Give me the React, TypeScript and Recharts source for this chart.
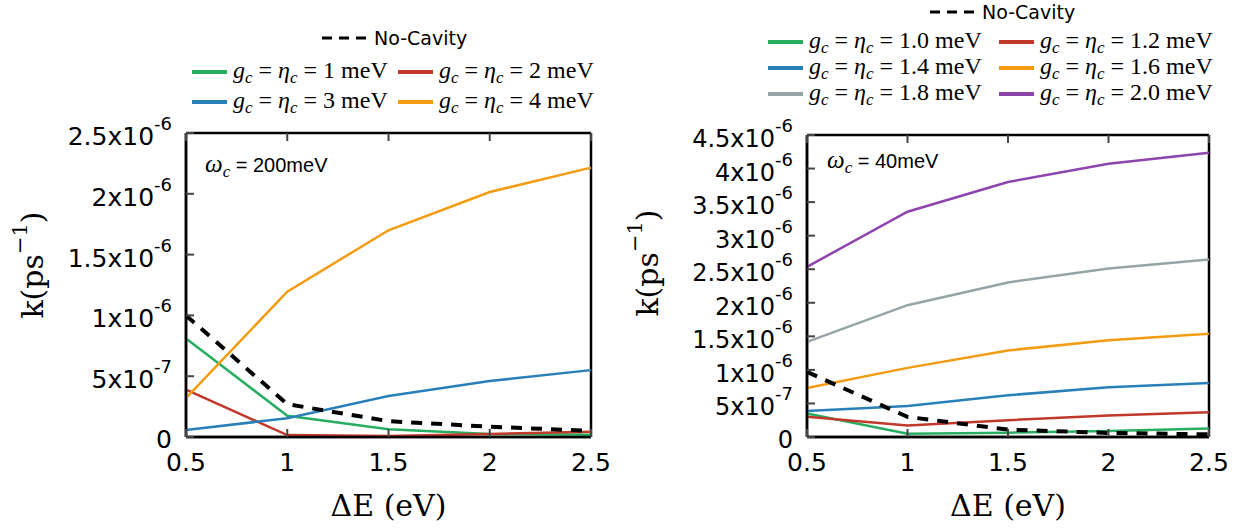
import React from 'react';
import { LineChart, Line, XAxis, YAxis, CartesianGrid } from 'recharts';

// shared x values (Delta E, eV)
const DELTA_E = [0.5, 1, 1.5, 2, 2.5];
const X_TICKS = [0.5, 1, 1.5, 2, 2.5];

// left panel, omega_c = 200 meV
const LEFT_NO_CAVITY = [1.0e-6, 0.27e-6, 0.13e-6, 0.085e-6, 0.05e-6];
const LEFT_G1 = [0.81e-6, 0.175e-6, 0.063e-6, 0.025e-6, 0.018e-6];
const LEFT_G2 = [0.39e-6, 0.016e-6, 0.008e-6, 0.025e-6, 0.044e-6];
const LEFT_G3 = [0.058e-6, 0.154e-6, 0.337e-6, 0.46e-6, 0.55e-6];
const LEFT_G4 = [0.32e-6, 1.195e-6, 1.7e-6, 2.015e-6, 2.215e-6];
const LEFT_Y_TICKS = [0, 0.5e-6, 1e-6, 1.5e-6, 2e-6, 2.5e-6];

// right panel, omega_c = 40 meV
const RIGHT_NO_CAVITY = [0.97e-6, 0.3e-6, 0.11e-6, 0.06e-6, 0.04e-6];
const RIGHT_G10 = [0.35e-6, 0.05e-6, 0.065e-6, 0.09e-6, 0.125e-6];
const RIGHT_G12 = [0.3e-6, 0.17e-6, 0.25e-6, 0.32e-6, 0.368e-6];
const RIGHT_G14 = [0.388e-6, 0.462e-6, 0.622e-6, 0.741e-6, 0.805e-6];
const RIGHT_G16 = [0.73e-6, 1.03e-6, 1.29e-6, 1.44e-6, 1.54e-6];
const RIGHT_G18 = [1.417e-6, 1.964e-6, 2.303e-6, 2.51e-6, 2.646e-6];
const RIGHT_G20 = [2.536e-6, 3.356e-6, 3.8e-6, 4.07e-6, 4.236e-6];
const RIGHT_Y_TICKS = [0, 0.5e-6, 1e-6, 1.5e-6, 2e-6, 2.5e-6, 3e-6, 3.5e-6, 4e-6, 4.5e-6];

const GREEN = '#27ae60';
const RED = '#c0392b';
const BLUE = '#2980b9';
const ORANGE = '#f39c12';
const GRAY = '#95a5a6';
const PURPLE = '#8e44ad';

type Series = { key: string; label: string; color: string; values: number[] };

const LEFT_SERIES: Series[] = [
  { key: 'g1', label: '1', color: GREEN, values: LEFT_G1 },
  { key: 'g2', label: '2', color: RED, values: LEFT_G2 },
  { key: 'g3', label: '3', color: BLUE, values: LEFT_G3 },
  { key: 'g4', label: '4', color: ORANGE, values: LEFT_G4 },
];

const RIGHT_SERIES: Series[] = [
  { key: 'g10', label: '1.0', color: GREEN, values: RIGHT_G10 },
  { key: 'g12', label: '1.2', color: RED, values: RIGHT_G12 },
  { key: 'g14', label: '1.4', color: BLUE, values: RIGHT_G14 },
  { key: 'g16', label: '1.6', color: ORANGE, values: RIGHT_G16 },
  { key: 'g18', label: '1.8', color: GRAY, values: RIGHT_G18 },
  { key: 'g20', label: '2.0', color: PURPLE, values: RIGHT_G20 },
];

const SANS = '"DejaVu Sans", sans-serif';
const SERIF = '"DejaVu Serif", serif';
const MATH = '"Liberation Serif", serif';
const TICK_STROKE = '#444';

const buildData = (series: Series[], noCavity: number[]) =>
  DELTA_E.map((x, i) => {
    const row: Record<string, number> = { x, nc: noCavity[i] };
    series.forEach((s) => (row[s.key] = s.values[i]));
    return row;
  });

const splitSci = (v: number) => {
  const exp = Math.floor(Math.log10(v) + 1e-9);
  const mant = Number((v / Math.pow(10, exp)).toFixed(2));
  return { mant, exp };
};

// tick marks point into the plot
const BottomTick = (props: any) => {
  const { x, y, payload } = props;
  return (
    <g>
      <path d={`M${x},${y}V${y - 8}`} stroke={TICK_STROKE} strokeWidth={2} fill="none" />
      <text x={x} y={y + 34} textAnchor="middle" fontFamily={SANS} fontSize={25} fill="#000">
        {payload.value}
      </text>
    </g>
  );
};

const TopTick = (props: any) => {
  const { x, y } = props;
  return <path d={`M${x},${y}V${y + 8}`} stroke={TICK_STROKE} strokeWidth={2} fill="none" />;
};

const RightTick = (props: any) => {
  const { x, y } = props;
  return <path d={`M${x},${y}H${x - 8}`} stroke={TICK_STROKE} strokeWidth={2} fill="none" />;
};

const makeLeftTick = (fontSize: number) => (props: any) => {
  const { x, y, payload } = props;
  const v = payload.value as number;
  return (
    <g>
      <path d={`M${x},${y}H${x + 8}`} stroke={TICK_STROKE} strokeWidth={2} fill="none" />
      {v === 0 ? (
        <text x={x - 14} y={y + 11} textAnchor="end" fontFamily={SANS} fontSize={fontSize} fill="#000">
          0
        </text>
      ) : (
        <text x={x - 14} y={y + 12} textAnchor="end" fontFamily={SANS} fontSize={fontSize} fill="#000">
          <tspan>{`${splitSci(v).mant}x10`}</tspan>
          <tspan dy={-15} fontSize={18}>{`${splitSci(v).exp}`}</tspan>
        </text>
      )}
    </g>
  );
};

const xTitle = (props: any) => {
  const { viewBox } = props;
  const cx = viewBox.x + viewBox.width / 2;
  return (
    <text x={cx} y={viewBox.y + 79} textAnchor="middle" fontFamily={SERIF} fontSize={30} fill="#000">
      ΔE (eV)
    </text>
  );
};

const yTitle = (cx: number, cy: number) => () => (
  <text
    x={cx}
    y={cy}
    transform={`rotate(-90 ${cx} ${cy})`}
    textAnchor="middle"
    dominantBaseline="central"
    fontFamily={SERIF}
    fontSize={30}
    fill="#000"
  >
    <tspan>k(ps</tspan>
    <tspan dy={-12} fontSize={21}>−1</tspan>
    <tspan dy={12}>)</tspan>
  </text>
);

// frame: grid lines only at the plot edges
const edgeRows = ({ offset }: any) => [offset.top, offset.top + offset.height];
const edgeCols = ({ offset }: any) => [offset.left, offset.left + offset.width];

const FRAME = { stroke: '#000', strokeWidth: 2.5 };

type PanelProps = {
  series: Series[];
  noCavity: number[];
  yTicks: number[];
  width: number;
  margin: { top: number; right: number; bottom: number; left: number };
  tickFont: number;
  titleCenter: [number, number];
};

const Panel = ({ series, noCavity, yTicks, width, margin, tickFont, titleCenter }: PanelProps) => {
  const data = buildData(series, noCavity);
  const yMax = yTicks[yTicks.length - 1];
  return (
    <LineChart width={width} height={531} data={data} margin={margin}>
      <CartesianGrid
        stroke="#000"
        strokeWidth={2.5}
        strokeDasharray=""
        horizontalCoordinatesGenerator={edgeRows}
        verticalCoordinatesGenerator={edgeCols}
      />
      <XAxis
        dataKey="x"
        type="number"
        domain={[0.5, 2.5]}
        ticks={X_TICKS}
        interval={0}
        height={60}
        tickSize={0}
        tickMargin={0}
        tick={<BottomTick />}
        axisLine={FRAME}
        label={{ content: xTitle }}
      />
      <XAxis
        xAxisId="top"
        orientation="top"
        mirror
        dataKey="x"
        type="number"
        domain={[0.5, 2.5]}
        ticks={X_TICKS}
        interval={0}
        height={1}
        tickSize={0}
        tickMargin={0}
        tick={<TopTick />}
        axisLine={false}
      />
      <YAxis
        type="number"
        domain={[0, yMax]}
        ticks={yTicks}
        interval={0}
        width={100}
        tickSize={0}
        tickMargin={0}
        tick={makeLeftTick(tickFont)}
        axisLine={FRAME}
        label={{ content: yTitle(titleCenter[0], titleCenter[1]) }}
      />
      <YAxis
        yAxisId="right"
        orientation="right"
        mirror
        type="number"
        domain={[0, yMax]}
        ticks={yTicks}
        interval={0}
        width={1}
        tickSize={0}
        tickMargin={0}
        tick={<RightTick />}
        axisLine={false}
      />
      {series.map((s) => (
        <Line
          key={s.key}
          type="linear"
          dataKey={s.key}
          stroke={s.color}
          strokeWidth={2.5}
          dot={false}
          isAnimationActive={false}
        />
      ))}
      <Line
        type="linear"
        dataKey="nc"
        stroke="#000"
        strokeWidth={4}
        strokeDasharray="11 9"
        dot={false}
        isAnimationActive={false}
      />
    </LineChart>
  );
};

const MathLabel = ({ x, y, value }: { x: number; y: number; value: string }) => (
  <text x={x} y={y} fontFamily={MATH} fontSize={24} fill="#000" style={{ whiteSpace: 'pre' }}>
    <tspan fontStyle="italic">g</tspan>
    <tspan fontStyle="italic" fontSize={17} dy={5}>c</tspan>
    <tspan dy={-5}>{' = '}</tspan>
    <tspan fontStyle="italic">η</tspan>
    <tspan fontStyle="italic" fontSize={17} dy={5}>c</tspan>
    <tspan dy={-5}>{` = ${value} meV`}</tspan>
  </text>
);

const NoCavityKey = ({ x, y }: { x: number; y: number }) => (
  <g>
    <path d={`M${x},${y}H${x + 44}`} stroke="#000" strokeWidth={3} strokeDasharray="10 7" />
    <text x={x + 52} y={y + 7} fontFamily={SANS} fontSize={19} fill="#000">
      No-Cavity
    </text>
  </g>
);

const Legend = ({
  series,
  colX,
  rowY,
  nc,
}: {
  series: Series[];
  colX: [number, number];
  rowY: number[];
  nc: [number, number];
}) => (
  <g>
    <NoCavityKey x={nc[0]} y={nc[1]} />
    {series.map((s, i) => {
      const x = colX[i % 2];
      const y = rowY[Math.floor(i / 2)];
      return (
        <g key={s.key}>
          <path d={`M${x},${y}H${x + 35}`} stroke={s.color} strokeWidth={4} />
          <MathLabel x={x + 41} y={y + 6} value={s.label} />
        </g>
      );
    })}
  </g>
);

const Omega = ({ x, y, value }: { x: number; y: number; value: string }) => (
  <text x={x} y={y} fontSize={20} fill="#000" style={{ whiteSpace: 'pre' }}>
    <tspan fontFamily={MATH} fontStyle="italic" fontSize={25}>ω</tspan>
    <tspan fontFamily={MATH} fontStyle="italic" fontSize={17} dy={5}>c</tspan>
    <tspan dy={-5} fontFamily='"Liberation Sans", sans-serif'>{` = ${value}meV`}</tspan>
  </text>
);

export default function App() {
  return (
    <div style={{ position: 'absolute', left: 0, top: 0, width: 1247, height: 531, background: '#fff' }}>
      <div style={{ position: 'absolute', left: 0, top: 0 }}>
        <Panel
          series={LEFT_SERIES}
          noCavity={LEFT_NO_CAVITY}
          yTicks={LEFT_Y_TICKS}
          width={620}
          margin={{ top: 133, right: 29, bottom: 34, left: 86 }}
          tickFont={25}
          titleCenter={[32, 265]}
        />
      </div>
      <div style={{ position: 'absolute', left: 620, top: 0 }}>
        <Panel
          series={RIGHT_SERIES}
          noCavity={RIGHT_NO_CAVITY}
          yTicks={RIGHT_Y_TICKS}
          width={627}
          margin={{ top: 135, right: 38, bottom: 34, left: 87 }}
          tickFont={24}
          titleCenter={[27, 263]}
        />
      </div>
      <svg width={1247} height={531} style={{ position: 'absolute', left: 0, top: 0, pointerEvents: 'none' }}>
        <Legend series={LEFT_SERIES} colX={[192, 398]} rowY={[72, 102]} nc={[322, 38]} />
        <Legend series={RIGHT_SERIES} colX={[768, 999]} rowY={[42, 68, 94]} nc={[930, 12]} />
        <Omega x={205} y={172} value="200" />
        <Omega x={827} y={168} value="40" />
      </svg>
    </div>
  );
}
